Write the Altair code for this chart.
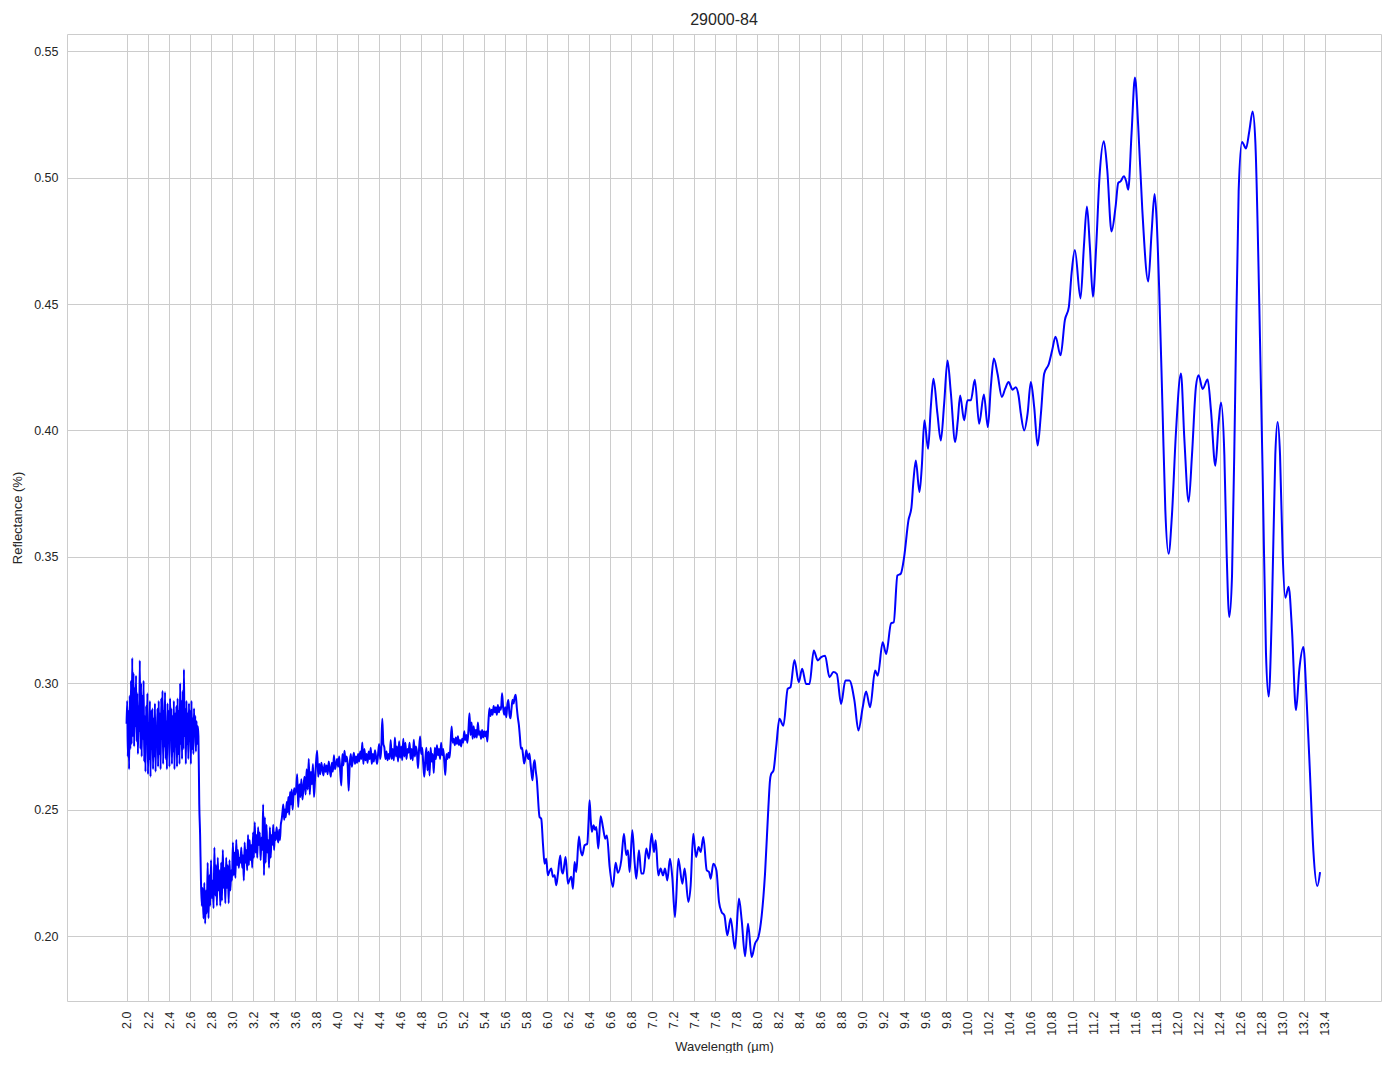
import altair as alt
import numpy as np
import pandas as pd

# ---- noisy segment A: 1.996 .. 2.680 µm, sampled every 0.006 µm ----
seg_a_start, seg_a_step = 1.996, 0.006
seg_a_vals = [
    0.284, 0.293, 0.271, 0.289, 0.266, 0.295, 0.274, 0.301, 0.276, 0.310,
    0.279, 0.304, 0.275, 0.298, 0.283, 0.303, 0.277, 0.296, 0.272, 0.291,
    0.281, 0.309, 0.274, 0.300, 0.271, 0.295, 0.278, 0.301, 0.269, 0.287,
    0.265, 0.291, 0.276, 0.296, 0.264, 0.284, 0.270, 0.293, 0.263, 0.289,
    0.274, 0.290, 0.266, 0.286, 0.271, 0.292, 0.265, 0.283, 0.276, 0.290,
    0.267, 0.293, 0.272, 0.288, 0.266, 0.294, 0.278, 0.297, 0.268, 0.289,
    0.275, 0.2965, 0.270, 0.285, 0.266, 0.292, 0.277, 0.289, 0.267, 0.294,
    0.279, 0.290, 0.268, 0.287, 0.273, 0.293, 0.266, 0.288, 0.275, 0.291,
    0.267, 0.294, 0.272, 0.289, 0.268, 0.300, 0.276, 0.293, 0.270, 0.297,
    0.274, 0.3055, 0.279, 0.290, 0.268, 0.293, 0.276, 0.288, 0.270, 0.292,
    0.277, 0.289, 0.268, 0.293, 0.274, 0.286, 0.272, 0.290, 0.279, 0.287,
    0.273, 0.285, 0.276, 0.283, 0.279,
]

# ---- noisy segment B: 2.688 .. 3.600 µm, sampled every 0.008 µm ----
seg_b_start, seg_b_step = 2.688, 0.008
seg_b_vals = [
    0.252, 0.240, 0.222, 0.212, 0.219, 0.207, 0.221, 0.205, 0.218, 0.209,
    0.229, 0.207, 0.224, 0.212, 0.230, 0.215, 0.222, 0.211, 0.235, 0.216,
    0.228, 0.212, 0.231, 0.218, 0.226, 0.212, 0.229, 0.214, 0.234, 0.219,
    0.227, 0.213, 0.231, 0.219, 0.228, 0.213, 0.230, 0.218, 0.226, 0.222,
    0.237, 0.224, 0.233, 0.223, 0.238, 0.228, 0.234, 0.227, 0.231, 0.229,
    0.235, 0.227, 0.232, 0.222, 0.237, 0.229, 0.234, 0.226, 0.240, 0.228,
    0.238, 0.230, 0.236, 0.227, 0.241, 0.231, 0.245, 0.233, 0.240, 0.231,
    0.243, 0.236, 0.241, 0.230, 0.239, 0.234, 0.252, 0.224, 0.247, 0.229,
    0.244, 0.233, 0.238, 0.227, 0.243, 0.231, 0.240, 0.236, 0.244, 0.234,
    0.241, 0.238, 0.243, 0.239, 0.237, 0.242, 0.238, 0.244, 0.246, 0.249,
    0.252, 0.246, 0.250, 0.247, 0.253, 0.249, 0.255, 0.248, 0.257, 0.252,
    0.258, 0.250, 0.255, 0.2585, 0.256,
]

# ---- noisy segment C: 3.61 .. 5.90 µm, sampled every 0.01 µm ----
seg_c_start, seg_c_step = 3.61, 0.01
seg_c_vals = [
    0.258, 0.264, 0.251, 0.260, 0.255, 0.262, 0.254, 0.259, 0.263, 0.256,
    0.266, 0.258, 0.270, 0.256, 0.265, 0.260, 0.268, 0.255, 0.262, 0.269,
    0.2733, 0.263, 0.268, 0.264, 0.2685, 0.266, 0.2635, 0.268, 0.265, 0.2675,
    0.264, 0.269, 0.266, 0.263, 0.2685, 0.265, 0.2715, 0.266, 0.268, 0.270,
    0.267, 0.271, 0.265, 0.2595, 0.272, 0.2675, 0.2733, 0.269, 0.271, 0.268,
    0.2575, 0.268, 0.272, 0.267, 0.270, 0.2725, 0.268, 0.271, 0.2685, 0.272,
    0.269, 0.273, 0.270, 0.2766, 0.268, 0.274, 0.2695, 0.272, 0.2685, 0.273,
    0.270, 0.2745, 0.268, 0.272, 0.269, 0.2735, 0.271, 0.268, 0.272, 0.276,
    0.270, 0.274, 0.2859, 0.276, 0.2745, 0.270, 0.273, 0.2695, 0.272, 0.270,
    0.2775, 0.270, 0.274, 0.2695, 0.2785, 0.271, 0.275, 0.269, 0.277, 0.2705,
    0.275, 0.2695, 0.278, 0.271, 0.2765, 0.270, 0.274, 0.2725, 0.2765, 0.270,
    0.274, 0.2695, 0.2776, 0.271, 0.275, 0.2725, 0.2664, 0.274, 0.2789, 0.272,
    0.2745, 0.268, 0.263, 0.270, 0.2745, 0.2655, 0.273, 0.2635, 0.2745, 0.269,
    0.272, 0.2645, 0.2745, 0.270, 0.2755, 0.2715, 0.274, 0.270, 0.2765, 0.2715,
    0.274, 0.269, 0.2637, 0.272, 0.270, 0.2725, 0.2705, 0.276, 0.2829, 0.2765,
    0.278, 0.2755, 0.2785, 0.276, 0.279, 0.2755, 0.2775, 0.275, 0.278, 0.2765,
    0.281, 0.2775, 0.2795, 0.2765, 0.2815, 0.2881, 0.2795, 0.2845, 0.278, 0.283,
    0.2785, 0.2815, 0.2785, 0.2845, 0.2795, 0.281, 0.278, 0.2815, 0.2785, 0.281,
    0.279, 0.281, 0.2769, 0.2845, 0.2901, 0.287, 0.2895, 0.2875, 0.291, 0.2885,
    0.2905, 0.2875, 0.2914, 0.2885, 0.2905, 0.2895, 0.296, 0.2905, 0.2875, 0.2905,
    0.2865, 0.2915, 0.2934, 0.288, 0.2861, 0.290, 0.2935, 0.292, 0.2945, 0.2954,
    0.2905, 0.2865, 0.2835, 0.2788, 0.2741, 0.2745, 0.2715, 0.2682, 0.270, 0.2735,
    0.2715, 0.270, 0.2722, 0.2685, 0.2645, 0.2616, 0.2675, 0.2695, 0.2655, 0.2623,
]

# ---- smoother segment D: explicit wavelength / reflectance pairs ----
seg_d_wl = [
    5.927, 5.943, 5.96, 5.975, 5.99, 6.006, 6.02, 6.038, 6.054, 6.07,
    6.086, 6.102, 6.124, 6.137, 6.149, 6.162, 6.175, 6.197, 6.215, 6.229,
    6.245, 6.26, 6.276, 6.302, 6.318, 6.333, 6.356, 6.381, 6.393, 6.403,
    6.414, 6.425, 6.441, 6.455, 6.467, 6.486, 6.508, 6.53, 6.552, 6.568,
    6.594, 6.625, 6.651, 6.673, 6.705, 6.73, 6.752, 6.768, 6.784, 6.81,
    6.832, 6.848, 6.873, 6.895, 6.917, 6.943, 6.968, 6.994, 7.016, 7.032,
    7.057, 7.079, 7.102, 7.121, 7.143, 7.168, 7.19, 7.216, 7.248, 7.286,
    7.308, 7.343, 7.365, 7.39, 7.416, 7.441, 7.46, 7.486, 7.518, 7.54,
    7.556, 7.581, 7.61, 7.635, 7.66, 7.686, 7.714, 7.746, 7.787, 7.825,
    7.851, 7.883, 7.911, 7.946, 7.978, 8.01, 8.041, 8.073, 8.105, 8.12,
    8.131, 8.153, 8.179, 8.21, 8.248, 8.289, 8.315, 8.353, 8.394, 8.426,
    8.464, 8.496, 8.537, 8.575, 8.607, 8.645, 8.686, 8.724, 8.756, 8.797,
    8.838, 8.876, 8.924, 8.962, 9.003, 9.035, 9.073, 9.121, 9.146, 9.193,
    9.226, 9.273, 9.298, 9.333, 9.365, 9.397, 9.438, 9.467, 9.486, 9.508,
    9.543, 9.565, 9.59, 9.625, 9.651, 9.676, 9.714, 9.746, 9.778, 9.81,
    9.841, 9.883, 9.908, 9.93, 9.968, 10.0, 10.032, 10.07, 10.111, 10.156,
    10.194, 10.222, 10.251, 10.286, 10.327, 10.359, 10.391, 10.429, 10.46, 10.486,
    10.508, 10.54, 10.572, 10.603, 10.635, 10.668, 10.699, 10.73, 10.775, 10.806,
    10.838, 10.886, 10.927, 10.965, 10.991, 11.022, 11.076, 11.108, 11.137, 11.165,
    11.194, 11.225, 11.257, 11.298, 11.33, 11.371, 11.41, 11.435, 11.457, 11.489,
    11.511, 11.53, 11.562, 11.594, 11.625, 11.664, 11.721, 11.752, 11.781, 11.8,
    11.825, 11.857, 11.883, 11.914, 11.946, 11.984, 12.032, 12.064, 12.105, 12.137,
    12.175, 12.2, 12.238, 12.286, 12.318, 12.359, 12.391, 12.413, 12.445, 12.467,
    12.492, 12.518, 12.549, 12.581, 12.613, 12.651, 12.683, 12.714, 12.74, 12.778,
    12.81, 12.841, 12.867, 12.898, 12.93, 12.952, 12.975, 13.0, 13.025, 13.057,
    13.089, 13.127, 13.159, 13.197, 13.229, 13.26, 13.292, 13.33, 13.356,
]
seg_d_vals = [
    0.2471, 0.2464, 0.236, 0.2286, 0.2306, 0.224, 0.2255, 0.2267, 0.2234, 0.224,
    0.2201, 0.2247, 0.2319, 0.226, 0.2247, 0.228, 0.2313, 0.2207, 0.2225, 0.2234,
    0.2187, 0.2293, 0.2253, 0.2394, 0.234, 0.2319, 0.2359, 0.2365, 0.245, 0.2537,
    0.246, 0.2412, 0.2438, 0.242, 0.2431, 0.2346, 0.2474, 0.2431, 0.2385, 0.2398,
    0.2273, 0.2194, 0.229, 0.225, 0.230, 0.2405, 0.232, 0.2339, 0.2253, 0.2418,
    0.229, 0.2227, 0.2339, 0.2247, 0.2247, 0.2346, 0.2306, 0.2405, 0.2332, 0.2379,
    0.224, 0.2267, 0.224, 0.2267, 0.222, 0.2306, 0.2234, 0.2075, 0.2306, 0.2207,
    0.2267, 0.2135, 0.220, 0.2405, 0.2313, 0.2352, 0.2332, 0.2392, 0.226, 0.2253,
    0.2227, 0.2286, 0.226, 0.2135, 0.2095, 0.2082, 0.2003, 0.2069, 0.195, 0.2148,
    0.2062, 0.192, 0.2049, 0.1917, 0.197, 0.1996, 0.208, 0.2247, 0.251, 0.2615,
    0.2641, 0.2654, 0.2747, 0.2859, 0.2832, 0.2978, 0.2984, 0.3092, 0.3004, 0.3057,
    0.2997, 0.2997, 0.3129, 0.309, 0.3103, 0.3109, 0.3024, 0.3044, 0.3037, 0.2918,
    0.3011, 0.3011, 0.2931, 0.2813, 0.2905, 0.2967, 0.2905, 0.305, 0.303, 0.3162,
    0.3116, 0.3237, 0.3241, 0.3426, 0.3433, 0.3499, 0.3644, 0.3697, 0.3802, 0.3881,
    0.3756, 0.3855, 0.404, 0.3927, 0.4092, 0.4204, 0.4066, 0.396, 0.4106, 0.4277,
    0.4152, 0.3954, 0.404, 0.4138, 0.404, 0.4119, 0.4119, 0.42, 0.4026, 0.4142,
    0.4013, 0.4171, 0.4284, 0.4224, 0.4132, 0.4165, 0.4191, 0.4161, 0.4171, 0.4138,
    0.4066, 0.40, 0.4066, 0.4191, 0.4092, 0.394, 0.4066, 0.4224, 0.4264, 0.4317,
    0.437, 0.4297, 0.4436, 0.4489, 0.4622, 0.4714, 0.4522, 0.4727, 0.4886, 0.4727,
    0.4529, 0.4727, 0.5005, 0.5144, 0.5032, 0.4787, 0.4886, 0.4979, 0.4985, 0.5005,
    0.4985, 0.4952, 0.5177, 0.5396, 0.5204, 0.4873, 0.4589, 0.478, 0.4935, 0.4837,
    0.4555, 0.4077, 0.3686, 0.3512, 0.3664, 0.399, 0.4225, 0.3968, 0.3718, 0.3903,
    0.4175, 0.4218, 0.4164, 0.4201, 0.4077, 0.386, 0.4033, 0.411, 0.3903, 0.3512,
    0.3262, 0.3425, 0.4164, 0.4946, 0.5141, 0.5115, 0.5185, 0.5261, 0.5141, 0.449,
    0.3816, 0.3121, 0.2947, 0.3295, 0.3903, 0.4033, 0.3903, 0.3512, 0.3338, 0.3382,
    0.3208, 0.2893, 0.3056, 0.3143, 0.2925, 0.2643, 0.2339, 0.2198, 0.2253,
]

x_ticks = [round(2.0 + 0.2 * i, 1) for i in range(58)]
y_ticks = [0.20, 0.25, 0.30, 0.35, 0.40, 0.45, 0.50, 0.55]


def sampled(start, step, vals):
    wl = np.round(start + step * np.arange(len(vals)), 4)
    return pd.DataFrame({"wl": wl, "refl": vals})


df = pd.concat(
    [
        sampled(seg_a_start, seg_a_step, seg_a_vals),
        sampled(seg_b_start, seg_b_step, seg_b_vals),
        sampled(seg_c_start, seg_c_step, seg_c_vals),
        pd.DataFrame({"wl": seg_d_wl, "refl": seg_d_vals}),
    ],
    ignore_index=True,
).sort_values("wl")

FONT = "Liberation Sans"

chart = (
    alt.Chart(df)
    .mark_line(color="#0000ff", strokeWidth=2, interpolate="monotone")
    .encode(
        x=alt.X(
            "wl:Q",
            scale=alt.Scale(domain=[1.429, 13.936], nice=False, zero=False),
            axis=alt.Axis(
                values=x_ticks,
                format=".1f",
                labelAngle=270,
                labelAlign="right",
                labelBaseline="middle",
                labelPadding=10,
                labelOverlap=False,
                labelFlush=False,
                title="Wavelength (µm)",
                titlePadding=5,
            ),
        ),
        y=alt.Y(
            "refl:Q",
            scale=alt.Scale(domain=[0.1743, 0.5568], nice=False, zero=False),
            axis=alt.Axis(
                values=y_ticks,
                format=".2f",
                labelPadding=9,
                labelFlush=False,
                title="Reflectance (%)",
                titlePadding=9,
            ),
        ),
    )
    .properties(
        width=1314,
        height=967,
        title="29000-84",
        autosize=alt.AutoSizeParams(type="none"),
        padding={"left": 59, "top": 26, "right": 4, "bottom": 52},
    )
    .configure_view(stroke="#cccccc", strokeWidth=1)
    .configure_axis(
        domain=False,
        ticks=False,
        grid=True,
        gridColor="#cccccc",
        gridWidth=1,
        labelFont=FONT,
        titleFont=FONT,
        labelColor="#262626",
        titleColor="#262626",
        labelFontSize=12.5,
        titleFontSize=13,
        titleFontWeight="normal",
    )
    .configure_title(
        font=FONT, fontSize=16, fontWeight="normal", color="#262626", offset=6
    )
)

chart.save("out.html", embed_options={"renderer": "svg", "actions": False})
